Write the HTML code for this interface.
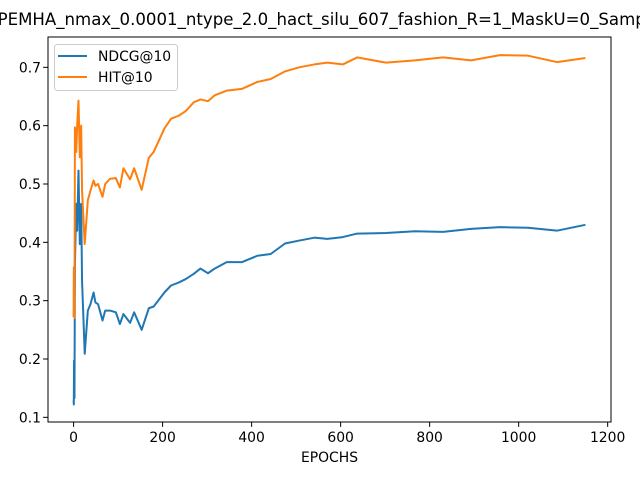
<!DOCTYPE html>
<html><head><meta charset="utf-8"><style>
html,body{margin:0;padding:0;background:#fff;overflow:hidden}
svg{display:block;font-family:"DejaVu Sans","Liberation Sans",sans-serif}
</style></head><body>
<svg id="chart" width="640" height="480" viewBox="0 0 640 480" xmlns="http://www.w3.org/2000/svg">
<rect width="640" height="480" fill="#fff"/>
<text x="324" y="25" font-size="16.6" text-anchor="middle" fill="#000">PEMHA_nmax_0.0001_ntype_2.0_hact_silu_607_fashion_R=1_MaskU=0_Sampl</text>
<g id="plot"></g>
<g id="axes"></g>
<g>
<rect x="54.5" y="44.5" width="123" height="46" rx="3" fill="#fff" fill-opacity="0.8" stroke="#ccc"/>
<line x1="58" y1="56" x2="87" y2="56" stroke="#1f77b4" stroke-width="2"/>
<text x="98" y="61" font-size="13.9">NDCG@10</text>
<line x1="58" y1="77" x2="87" y2="77" stroke="#ff7f0e" stroke-width="2"/>
<text x="98" y="82" font-size="13.9">HIT@10</text>
</g>
<text x="329.5" y="462" font-size="13.9" text-anchor="middle">EPOCHS</text>
</svg>
<script>
const epochs=[0,0.5,1,2,3,6,8,11,14,17,19,25,32,38,45,49,55,65,71,82,95,104,112,127,136,153,169,180,204,219,236,252,270,285,302,317,344,378,413,443,475,507,541,570,605,637,702,767,830,893,958,1021,1086,1150];
const ndcg=[0.129,0.122,0.197,0.133,0.363,0.466,0.42,0.523,0.397,0.466,0.334,0.209,0.283,0.294,0.314,0.297,0.294,0.266,0.283,0.283,0.28,0.26,0.277,0.262,0.28,0.25,0.287,0.29,0.314,0.326,0.331,0.337,0.346,0.355,0.347,0.355,0.366,0.366,0.377,0.38,0.398,0.403,0.408,0.406,0.409,0.415,0.416,0.419,0.418,0.423,0.426,0.425,0.42,0.43];
const hit=[0.272,0.357,0.289,0.27,0.597,0.555,0.60,0.643,0.546,0.60,0.489,0.397,0.472,0.489,0.506,0.497,0.5,0.478,0.5,0.509,0.51,0.494,0.527,0.508,0.527,0.49,0.545,0.555,0.595,0.612,0.617,0.625,0.64,0.645,0.642,0.652,0.66,0.663,0.675,0.68,0.693,0.70,0.705,0.708,0.705,0.717,0.708,0.712,0.717,0.712,0.721,0.72,0.709,0.716];
const xTicks=[0,200,400,600,800,1000,1200];
const yTicks=[0.1,0.2,0.3,0.4,0.5,0.6,0.7];
const L=48,R=611,T=37,B=422;
const xMin=-57.5,xMax=1207.5,yMin=0.092,yMax=0.752;
const sx=v=>L+(v-xMin)/(xMax-xMin)*(R-L);
const sy=v=>B-(v-yMin)/(yMax-yMin)*(B-T);
const NS="http://www.w3.org/2000/svg";
const plot=document.getElementById('plot'),axes=document.getElementById('axes');
function line(vals,color,name){
  const p=document.createElementNS(NS,'polyline');
  
  
  p.setAttribute('points',epochs.map((e,i)=>sx(e).toFixed(2)+','+sy(vals[i]).toFixed(2)).join(' '));
  p.setAttribute('fill','none');p.setAttribute('stroke',color);p.setAttribute('stroke-width','2');
  p.setAttribute('stroke-linejoin','round');
  plot.appendChild(p);
}
line(ndcg,'#1f77b4','ndcg-series-line');
line(hit,'#ff7f0e','hit-series-line');
const frame=document.createElementNS(NS,'rect');


frame.setAttribute('x',L);frame.setAttribute('y',T);frame.setAttribute('width',R-L);frame.setAttribute('height',B-T);
frame.setAttribute('fill','none');frame.setAttribute('stroke','#000');frame.setAttribute('stroke-width','1');
axes.appendChild(frame);
xTicks.forEach(t=>{
  const x=sx(t);
  const l=document.createElementNS(NS,'line');
  
  
  l.setAttribute('x1',x);l.setAttribute('x2',x);l.setAttribute('y1',B);l.setAttribute('y2',B+4.9);l.setAttribute('stroke','#000');
  axes.appendChild(l);
  const tx=document.createElementNS(NS,'text');
  
  
  tx.setAttribute('x',x);tx.setAttribute('y',B+20);tx.setAttribute('font-size','13.9');tx.setAttribute('text-anchor','middle');
  tx.textContent=t;axes.appendChild(tx);
});
yTicks.forEach(t=>{
  const y=sy(t);
  const l=document.createElementNS(NS,'line');
  
  
  l.setAttribute('x1',L-4.9);l.setAttribute('x2',L);l.setAttribute('y1',y);l.setAttribute('y2',y);l.setAttribute('stroke','#000');
  axes.appendChild(l);
  const tx=document.createElementNS(NS,'text');
  
  
  tx.setAttribute('x',L-7);tx.setAttribute('y',y+5);tx.setAttribute('font-size','13.9');tx.setAttribute('text-anchor','end');
  tx.textContent=t.toFixed(1);axes.appendChild(tx);
});
</script>
</body></html>
